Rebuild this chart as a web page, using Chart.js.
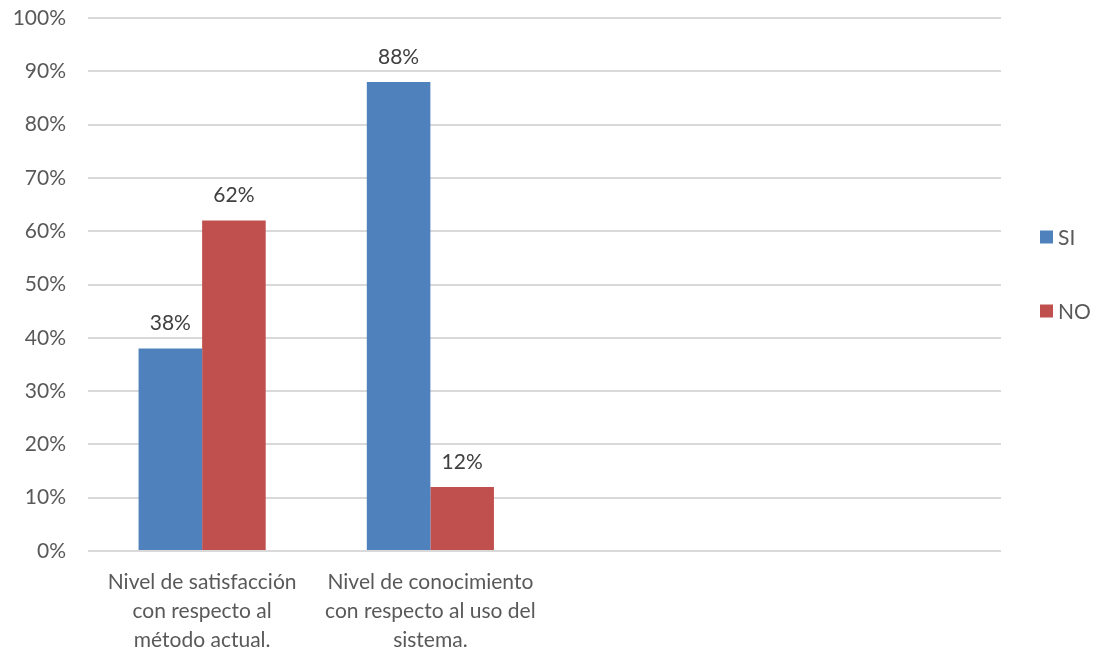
<!DOCTYPE html>
<html>
<head>
<meta charset="utf-8">
<script src="https://cdn.jsdelivr.net/npm/chart.js@4"></script>
<style>
  html, body { margin: 0; padding: 0; background: #ffffff; }
  #wrap { width: 1100px; height: 658px; }
</style>
</head>
<body>
<div id="wrap"><canvas id="c" width="1100" height="658"></canvas></div>
<script>
// Survey categories (two empty slots keep the Office-style spacing)
const categories = [
  ["Nivel de satisfacción", "con respecto al", "método actual."],
  ["Nivel de conocimiento", "con respecto al uso del", "sistema."],
  "",
  ""
];
const seriesNames = ["SI", "NO"];
const siValues = [38, 88];
const noValues = [62, 12];
const seriesColors = ["#4F81BD", "#C0504D"];

const FONT = "Lato, 'Open Sans', sans-serif";
const TEXT = "#595959";
const FSIZE = 21;

// Value labels above each bar
const valueLabels = {
  id: "valueLabels",
  afterDatasetsDraw(chart) {
    const ctx = chart.ctx;
    ctx.save();
    ctx.font = FSIZE + "px " + FONT;
    ctx.fillStyle = "#404040";
    ctx.textAlign = "center";
    ctx.textBaseline = "middle";
    chart.data.datasets.forEach((ds, i) => {
      chart.getDatasetMeta(i).data.forEach((bar, j) => {
        const v = ds.data[j];
        if (v == null) return;
        ctx.fillText(v + "%", bar.x, bar.y - 25);
      });
    });
    ctx.restore();
  }
};

// Legend on the right, drawn from the dataset names and colours
const sideLegend = {
  id: "sideLegend",
  afterDraw(chart) {
    const ctx = chart.ctx;
    ctx.save();
    ctx.font = FSIZE + "px " + FONT;
    ctx.textBaseline = "middle";
    ctx.textAlign = "left";
    const ys = [237, 311];
    chart.data.datasets.forEach((ds, i) => {
      const y = ys[i];
      ctx.fillStyle = ds.backgroundColor;
      ctx.fillRect(1040, y - 6.5, 13, 13);
      ctx.fillStyle = TEXT;
      ctx.fillText(ds.label, 1058, y + 1);
    });
    ctx.restore();
  }
};

new Chart(document.getElementById("c"), {
  type: "bar",
  data: {
    labels: categories,
    datasets: [
      { label: seriesNames[0], data: siValues, backgroundColor: seriesColors[0] },
      { label: seriesNames[1], data: noValues, backgroundColor: seriesColors[1] }
    ]
  },
  options: {
    responsive: false,
    animation: false,
    events: [],
    layout: { padding: { top: 18, right: 99, bottom: 0, left: 0 } },
    datasets: { bar: { categoryPercentage: 0.557, barPercentage: 1.0, borderWidth: 0 } },
    plugins: {
      legend: { display: false },
      tooltip: { enabled: false }
    },
    scales: {
      x: {
        grid: { display: false, drawTicks: false },
        border: { display: false },
        ticks: {
          color: TEXT,
          font: { family: FONT, size: FSIZE, lineHeight: 1.38 },
          padding: 17,
          maxRotation: 0,
          autoSkip: false
        },
        afterFit(s) { s.height = 107; s.paddingLeft = 0; s.paddingRight = 0; }
      },
      y: {
        min: 0,
        max: 100,
        grid: { color: "#d9d9d9", lineWidth: 2, drawTicks: false },
        border: { display: false },
        ticks: {
          stepSize: 10,
          color: TEXT,
          font: { family: FONT, size: FSIZE },
          padding: 22,
          callback: v => v + "%"
        },
        afterFit(s) { s.width = 88; s.paddingTop = 0; s.paddingBottom = 0; }
      }
    }
  },
  plugins: [valueLabels, sideLegend]
});
</script>
</body>
</html>
